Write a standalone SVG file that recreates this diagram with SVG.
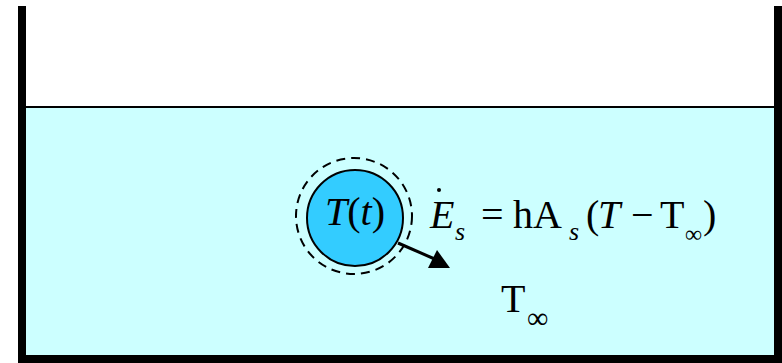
<svg xmlns="http://www.w3.org/2000/svg" width="782" height="363" viewBox="0 0 782 363">
<style>
.t{font-family:"Liberation Serif","Times New Roman",serif;fill:#000}
.i{font-style:italic}
</style>
<rect x="0" y="0" width="782" height="363" fill="#fff"/>
<g id="tank">
<rect x="22" y="107" width="756" height="252" fill="#ccffff" stroke="#000" stroke-width="2"/>
<path d="M22,6 V359 H778 V6" fill="none" stroke="#000" stroke-width="8"/>
</g>
<g id="sphere">
<circle cx="354" cy="216" r="58" fill="none" stroke="#000" stroke-width="2" stroke-dasharray="9,6"/>
<circle cx="355" cy="218" r="48" fill="#33ccff" stroke="#000" stroke-width="2"/>
<text class="t i" x="355" y="225" font-size="40" text-anchor="middle">T<tspan font-style="normal">(</tspan>t<tspan font-style="normal">)</tspan></text>
</g>
<g id="connectors">
<line x1="398" y1="243" x2="437" y2="260" stroke="#000" stroke-width="3"/>
<polygon points="450,268 428,268 437,250" fill="#000"/>
</g>
<g id="equation">
<text class="t" font-size="40" y="228"><tspan class="i" x="430">E</tspan><tspan class="i" x="455" y="240" font-size="26">s</tspan><tspan x="481" y="228">=</tspan><tspan x="513">hA</tspan><tspan class="i" x="569" y="240" font-size="26">s</tspan><tspan x="586" y="228">(</tspan><tspan class="i" x="598">T</tspan><tspan x="631">−</tspan><tspan x="660">T</tspan><tspan x="685" y="242" font-size="24">∞</tspan><tspan x="703" y="228">)</tspan></text>
<circle cx="439" cy="190" r="2" fill="#000"/>
</g>
<g id="ambient">
<text class="t" font-size="40" x="501" y="312">T<tspan x="527" y="328" font-size="30">∞</tspan></text>
</g>
</svg>
